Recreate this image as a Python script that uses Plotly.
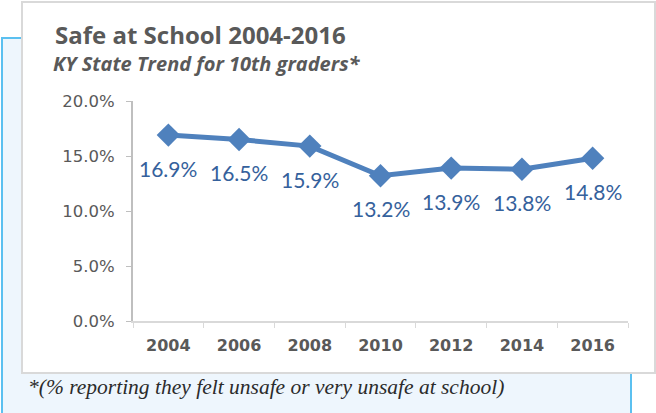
import plotly.graph_objects as go

years = ["2004", "2006", "2008", "2010", "2012", "2014", "2016"]
pct_unsafe = [16.9, 16.5, 15.9, 13.2, 13.9, 13.8, 14.8]
y_ticks = [0, 5, 10, 15, 20]
y_tick_labels = ["0.0%", "5.0%", "10.0%", "15.0%", "20.0%"]

W, H = 656, 413
L, R, T, B = 133, 28, 101, 92
PW, PH = W - L - R, H - T - B


def px_x(px):
    return (px - L) / PW


def px_y(py):
    return (H - B - py) / PH


LINE_BLUE = "#4f81bd"
LABEL_BLUE = "#35619c"
GREY_TEXT = "#595959"

fig = go.Figure()
fig.add_trace(go.Scatter(
    x=years, y=pct_unsafe, mode="lines+markers",
    line=dict(color=LINE_BLUE, width=5),
    marker=dict(symbol="diamond", size=18, color=LINE_BLUE),
    hoverinfo="skip", showlegend=False, cliponaxis=False,
))

# value labels under each marker (category axis: position by index)
for i, v in enumerate(pct_unsafe):
    fig.add_annotation(
        x=i, y=v, xref="x", yref="y", text=f"{v:.1f}%", showarrow=False,
        yshift=-33, font=dict(family="Lato", size=21, color=LABEL_BLUE),
    )

shapes = [
    # light blue panel behind the card
    dict(type="rect", xref="paper", yref="paper", layer="below",
         x0=px_x(2), x1=px_x(631), y0=px_y(420), y1=px_y(38),
         fillcolor="#eef6fd", line=dict(color="#5bc0f0", width=2)),
    # white chart card
    dict(type="rect", xref="paper", yref="paper", layer="below",
         x0=px_x(22), x1=px_x(655), y0=px_y(373), y1=px_y(2),
         fillcolor="white", line=dict(color="#d9d9d9", width=2)),
]

annotations = [
    dict(xref="paper", yref="paper", x=px_x(53), y=px_y(34), xanchor="left", yanchor="middle",
         text="<b>Safe at School 2004-2016</b>", showarrow=False,
         font=dict(family="Open Sans", size=24, color=GREY_TEXT)),
    dict(xref="paper", yref="paper", x=px_x(51), y=px_y(63), xanchor="left", yanchor="middle",
         text="<b><i>KY State Trend for 10th graders*</i></b>", showarrow=False,
         font=dict(family="Open Sans", size=20, color=GREY_TEXT)),
    dict(xref="paper", yref="paper", x=px_x(26), y=px_y(387), xanchor="left", yanchor="middle",
         text="*(% reporting they felt unsafe or very unsafe at school)", showarrow=False,
         font=dict(family="Times New Roman", size=21.5, color="#2b2b2b", style="italic")),
]
fig.layout.annotations = list(fig.layout.annotations) + annotations

fig.update_layout(
    width=W, height=H,
    margin=dict(l=L, r=R, t=T, b=B, pad=0),
    paper_bgcolor="white", plot_bgcolor="rgba(0,0,0,0)",
    shapes=shapes,
    xaxis=dict(
        type="category", range=[-0.5, len(years) - 0.5],
        tickson="boundaries", ticks="outside", ticklen=5,
        tickcolor="#d9d9d9", showline=True, linecolor="#d9d9d9", linewidth=2,
        showgrid=False, zeroline=False, fixedrange=True,
        tickfont=dict(family="DejaVu Sans", size=16, color=GREY_TEXT, weight="bold"),
        tickangle=0, ticklabelstandoff=9,
    ),
    yaxis=dict(
        range=[0, 20], tickvals=y_ticks, ticktext=y_tick_labels,
        ticks="outside", ticklen=5, tickcolor="#bfbfbf",
        showline=True, linecolor="#bfbfbf", linewidth=2,
        showgrid=False, zeroline=False, fixedrange=True,
        tickfont=dict(family="DejaVu Sans", size=16.5, color=GREY_TEXT),
        ticklabelstandoff=8,
    ),
)

fig.write_html("out.html", config={"displayModeBar": False})
